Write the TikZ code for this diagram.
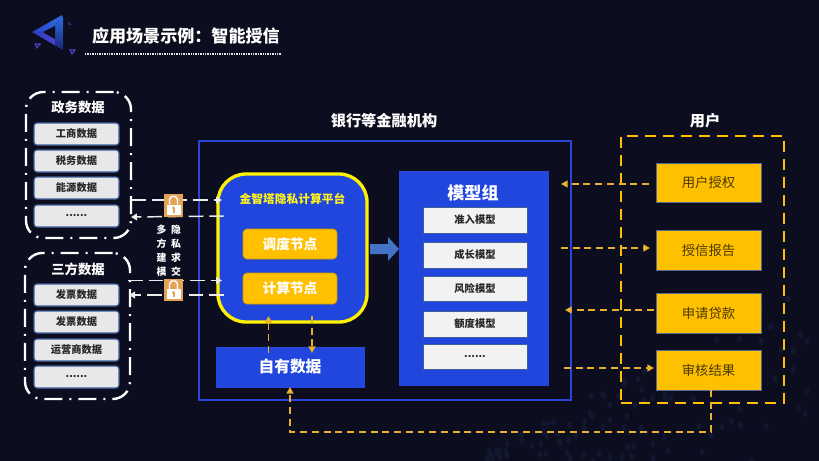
\documentclass[tikz,border=0pt]{standalone}
\usepackage{fontspec}
\setmainfont{Noto Sans CJK SC}
\usetikzlibrary{arrows.meta,calc}
\definecolor{bgc}{HTML}{0C0D1E}
\definecolor{royal}{HTML}{2046DE}
\definecolor{bankc}{HTML}{2A46D8}
\definecolor{gold}{HTML}{FFC000}
\definecolor{dashc}{HTML}{E8B02C}
\definecolor{paper}{HTML}{E8E8EA}
\definecolor{edgec}{HTML}{3F5F9A}
\definecolor{lockc}{HTML}{E4A456}
\definecolor{speck}{HTML}{11172E}
\definecolor{blockc}{HTML}{4472C4}
\definecolor{logoa}{HTML}{2F6FE8}
\definecolor{logob}{HTML}{2A3FC0}
\definecolor{logoc}{HTML}{5A3FD0}
\tikzset{
  x=0.75pt,y=-0.75pt,
  base/.style={inner sep=0pt,outer sep=0pt,align=center},
  heading/.style={base,text=white,font=\fontsize{11.4}{13}\selectfont\bfseries},
  groupbox/.style={base,draw=white,line width=1.8pt,rounded corners=13pt,dash pattern=on 13.5pt off 5.25pt on 1.5pt off 5.25pt},
  grouplabel/.style={base,text=white,font=\fontsize{10}{12}\selectfont\bfseries},
  itembox/.style={base,fill=paper,draw=edgec,line width=0.9pt,rounded corners=2.2pt,text=black!85,font=\fontsize{7.7}{9}\selectfont\bfseries},
  modelbox/.style={base,fill=white!95!black,draw=edgec,line width=0.6pt,text=black!85,font=\fontsize{7.7}{9}\selectfont\bfseries},
  nodebox/.style={base,fill=gold,draw=gold!80!black,line width=0.5pt,rounded corners=3pt,text=white,font=\fontsize{10.3}{12}\selectfont\bfseries},
  userbox/.style={base,fill=gold,draw=edgec!70!gray,line width=0.7pt,text=black!70!gold,font=\fontsize{10}{12}\selectfont},
  whitelink/.style={white!92!black,line width=1.1pt,dash pattern=on 11pt off 4.5pt},
  orangelink/.style={dashc,line width=1.2pt,dash pattern=on 5.2pt off 3.6pt},
  tipw/.style={-{Triangle[length=4.5pt,width=5pt,fill=white]}},
  tipo/.style={-{Triangle[length=5pt,width=5.2pt,fill=gold!90!white]}},
  lockbox/.style={base,fill=lockc,minimum width=14.5pt,minimum height=17pt},
  small/.style={base,text=white,font=\fontsize{7.4}{8}\selectfont\bfseries},
}
\newcommand{\pxnode}[7][]{%
  \pgfmathsetmacro\pcx{(#3+#5)/2}\pgfmathsetmacro\pcy{(#4+#6)/2}%
  \pgfmathsetmacro\pw{(#5-#3)*0.75}\pgfmathsetmacro\ph{(#6-#4)*0.75}%
  \node[#1,minimum width=\pw pt,minimum height=\ph pt] (#2) at (\pcx,\pcy) {#7};}
\newcommand{\padlock}[2]{%
  \node[lockbox] (#1) at (#2) {};
  \draw[white,line width=1.1pt] ($(#1.center)+(-4,-1)$) -- ++(0,-5) -- ++(2,-3) -- ++(4,0) -- ++(2,3) -- ++(0,5);
  \fill[white] ($(#1.center)+(-7,-1)$) rectangle ($(#1.center)+(7,9)$);
  \fill[lockc] ($(#1.center)+(0,2.5)$) circle[radius=1.7];
  \fill[lockc] ($(#1.center)+(-1,2.5)$) rectangle ($(#1.center)+(1,7)$);}
\begin{document}
\begin{tikzpicture}
\useasboundingbox (0,0) rectangle (819,461);
\fill[bgc] (0,0) rectangle (819,461);
% faint background specks
\pgfmathsetseed{41}
\foreach \i in {1,...,110}{
  \pgfmathsetmacro\sx{480+339*rnd}
  \pgfmathsetmacro\sy{461-190*rnd*((\sx-470)/349)}
  \fill[speck] (\sx,\sy) ellipse[x radius=2.6,y radius=3.6];
}
% logo
\fill[left color=logob,right color=logoa] (32,32) -- (62,15) -- (63,19) -- (55,26) -- (43,32) -- cycle;
\fill[top color=logoa,bottom color=logob!60!black] (62,15) -- (63,19) -- (63,50) -- (55,45) -- (55,26) -- cycle;
\fill[left color=logob,right color=logoc] (32,32) -- (43,32) -- (55,39) -- (55,45) -- (63,50) -- cycle;
\fill[bgc] (43,32) -- (55,26) -- (55,39) -- cycle;
\fill[logob!70!black] (68,21) -- (72,25) -- (68,25) -- cycle;
\draw[logoc,line width=0.8pt] (35,44) -- (40,44) -- (37,48) -- cycle;
\draw[logoc,line width=0.8pt] (70,50) -- (75,50) -- (72,54) -- cycle;
% title
\node[base,anchor=west,text=white,font=\fontsize{12.8}{15}\selectfont\bfseries] (title) at (92,36) {应用场景示例：智能授信};
\coordinate (ruleL) at (85,54);
\coordinate (ruleR) at (281,54);
\draw[white!90!black,line width=0.8pt,dash pattern=on 1pt off 0.8pt] (ruleL) -- (ruleR);
% bank frame
\pxnode[base,draw=bankc,line width=2pt]{bank}{199}{141}{571}{400}{}
\node[heading] (bankt) at (384,121) {银行等金融机构};
% left groups
\pxnode[groupbox]{gov}{26}{92}{131}{238}{}
\node[grouplabel] (govt) at (78,107) {政务数据};
\pxnode[itembox]{g1}{34}{123}{119}{145}{工商数据}
\pxnode[itembox]{g2}{34}{150}{119}{172}{税务数据}
\pxnode[itembox]{g3}{34}{177}{119}{199}{能源数据}
\pxnode[itembox]{g4}{34}{205}{119}{227}{......}
\pxnode[groupbox]{third}{25}{253}{130}{399}{}
\node[grouplabel] (thirdt) at (78,269) {三方数据};
\pxnode[itembox]{t1}{34}{284}{119}{306}{发票数据}
\pxnode[itembox]{t2}{34}{311}{119}{333}{发票数据}
\pxnode[itembox]{t3}{34}{339}{119}{361}{运营商数据}
\pxnode[itembox]{t4}{34}{366}{119}{388}{......}
% platform
\pxnode[base,fill=royal,draw=yellow,line width=2.5pt,rounded corners=21pt]{plat}{218}{174}{367}{322}{}
\node[base,text=yellow!90!white,font=\fontsize{8.8}{10}\selectfont\bfseries] (platt) at (292.5,199) {金智塔隐私计算平台};
\pxnode[nodebox]{sched}{243}{229}{337}{259}{调度节点}
\pxnode[nodebox]{comp}{243}{273}{337}{304}{计算节点}
\pxnode[base,fill=royal,draw=bankc,line width=0.4pt,text=white,font=\fontsize{11.8}{14}\selectfont\bfseries]{own}{216}{347}{364}{387}{自有数据}
% model group
\pxnode[base,fill=royal,draw=bankc,line width=0.4pt]{models}{399.5}{171}{548}{385}{}
\node[base,text=white,font=\fontsize{12.8}{15}\selectfont\bfseries] (modelst) at (473,193) {模型组};
\pxnode[modelbox]{m1}{423}{207}{527}{233}{准入模型}
\pxnode[modelbox]{m2}{423}{242}{527}{268}{成长模型}
\pxnode[modelbox]{m3}{423}{276}{527}{301}{风险模型}
\pxnode[modelbox]{m4}{423}{311}{527}{337}{额度模型}
\pxnode[modelbox]{m5}{423}{344}{527}{369}{......}
% block arrow
\fill[blockc] (370,244) -- (388,244) -- (388,237) -- (399,249) -- (388,261) -- (388,254) -- (370,254) -- cycle;
% user group
\pxnode[base,draw=gold,line width=1.5pt,dash pattern=on 8pt off 5.5pt]{users}{621}{136}{784}{403}{}
\node[heading] (userst) at (705,121) {用户};
\pxnode[userbox]{u1}{656}{163}{761}{202}{用户授权}
\pxnode[userbox]{u2}{656}{230}{761}{270}{授信报告}
\pxnode[userbox]{u3}{656}{293}{761}{333}{申请贷款}
\pxnode[userbox]{u4}{656}{350}{761}{390}{审核结果}
% free ends of the links
\coordinate (a1) at (131,200); \coordinate (b1) at (222,200);
\coordinate (b2) at (224,216); \coordinate (a2) at (131,217);
\coordinate (a3) at (128,280.5); \coordinate (b3) at (222,280.5);
\coordinate (b4) at (224,295); \coordinate (a4) at (129,295);
\coordinate (o1) at (268.5,353); \coordinate (o2) at (268.5,316);
\coordinate (o3) at (312,316); \coordinate (o4) at (312,353);
\coordinate (c1) at (649,184); \coordinate (c2) at (561,184);
\coordinate (d1) at (561,248); \coordinate (d2) at (650,248);
\coordinate (e1) at (654,310); \coordinate (e2) at (565,310);
\coordinate (f1) at (564,368); \coordinate (f2) at (654,368);
\coordinate (h1) at (711,432); \coordinate (h2) at (290,432);
% white links
\draw[whitelink,tipw] (a1) -- (b1);
\draw[whitelink,tipw] (b2) -- (a2);
\draw[whitelink,tipw] (a3) -- (b3);
\draw[whitelink,tipw] (b4) -- (a4);
% locks
\padlock{lock1}{173.5,205.5}
\padlock{lock2}{173.5,290}
\foreach \n/\a/\b/\y in {s1/多/隐/230,s2/方/私/244,s3/建/求/258,s4/模/交/272}{
  \node[small] (\n a) at (161.5,\y) {\a};
  \node[small] (\n b) at (176,\y) {\b};
}
% orange links
\draw[orangelink,tipo] (o1) -- (o2);
\draw[orangelink,tipo] (o3) -- (o4);
\draw[orangelink,tipo] (c1) -- (c2);
\draw[orangelink,tipo] (d1) -- (d2);
\draw[orangelink,tipo] (e1) -- (e2);
\draw[orangelink,tipo] (f1) -- (f2);
\draw[orangelink,tipo] (u4.south -| h1) -- (h1) -- (h2) -- (own.south -| h2);
\end{tikzpicture}
\end{document}
